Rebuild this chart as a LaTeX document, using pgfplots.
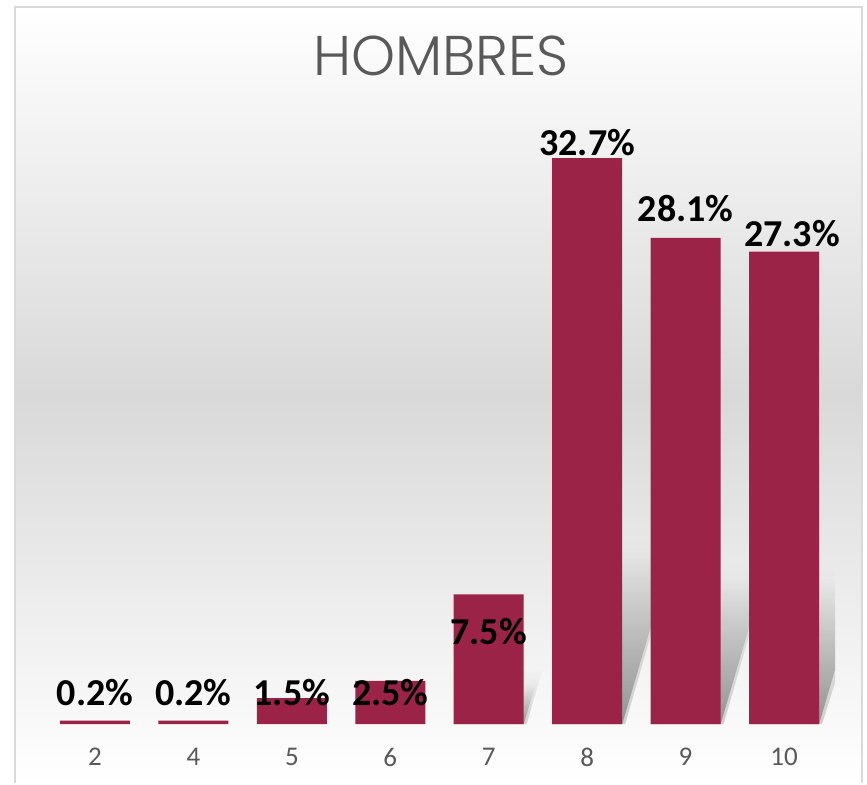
\documentclass[border=0pt]{standalone}
\usepackage{fontspec}
\setmainfont{Carlito}
\newfontfamily\titlefont{Poppins Light}
\usepackage{pgfplots}
\pgfplotsset{compat=1.18}
\usetikzlibrary{fadings}

\definecolor{barred}{RGB}{155,35,71}
\definecolor{tickgray}{RGB}{89,89,89}
\definecolor{framegray}{RGB}{217,217,217}
\definecolor{shadowgray}{RGB}{110,110,110}

\pgfplotsset{
    soft shadow/.style={fill=shadowgray, draw=none, fill opacity=#1, path fading=north},
}

\begin{document}
\begin{tikzpicture}
% chart area background (867x783 px -> 433.5x391.5 pt)
\fill[top color=white, bottom color=white, middle color=black!15]
    (7.5pt,0pt) rectangle (431pt,388pt);
\draw[framegray, line width=1pt]
    (7.5pt,0pt) -- (7.5pt,388pt) -- (431pt,388pt) -- (431pt,0pt);
\begin{axis}[
    at={(0pt,0pt)}, anchor=south west,
    scale only axis,
    width=433.5pt,
    height=391.5pt,
    xmin=-0.965, xmax=7.843,
    ymin=-3.408, ymax=41.83,
    axis line style={draw=none},
    major tick length=0pt,
    ytick=\empty,
    xtick={0,...,7},
    xticklabels={2,4,5,6,7,8,9,10},
    xticklabel style={anchor=center, yshift=13pt, font=\fontsize{13.5}{15}\selectfont, text=tickgray},
    /pgf/number format/assume math mode=true,
    clip=false,
]
% perspective shadows (outer soft layer, then inner layer)
\addplot[soft shadow=0.3] coordinates {
    (3.644,0) (4.386,0) (4.546,3.2) (3.764,3.2) (3.644,0)};
\addplot[soft shadow=0.55] coordinates {
    (3.644,0) (4.356,0) (4.472,2.25) (3.760,2.25) (3.644,0)};
\addplot[soft shadow=0.3] coordinates {
    (4.644,0) (5.386,0) (5.932,10.8) (5.150,10.8) (4.644,0)};
\addplot[soft shadow=0.6] coordinates {
    (4.644,0) (5.356,0) (5.862,9.81) (5.150,9.81) (4.644,0)};
\addplot[soft shadow=0.3] coordinates {
    (5.644,0) (6.386,0) (6.861,9.4) (6.079,9.4) (5.644,0)};
\addplot[soft shadow=0.6] coordinates {
    (5.644,0) (6.356,0) (6.791,8.43) (6.079,8.43) (5.644,0)};
\addplot[soft shadow=0.3] coordinates {
    (6.644,0) (7.386,0) (7.518,2.4) (7.518,9.2) (7.067,9.2) (6.644,0)};
\addplot[soft shadow=0.6] coordinates {
    (6.644,0) (7.356,0) (7.518,3.14) (7.518,8.19) (7.067,8.19) (6.644,0)};

\addplot[ybar, bar width=35pt, fill=barred, draw=none] coordinates {
    (0,0.2) (1,0.2) (2,1.5) (3,2.5) (4,7.5) (5,32.7) (6,28.1) (7,27.3)
};

% value labels
\addplot[draw=none, nodes near coords, point meta=explicit symbolic,
    every node near coord/.append style={anchor=center, inner sep=0pt,
        font=\fontsize{19}{22}\selectfont\bfseries, text=black}]
coordinates {
    (0,1.85)[0.2\%] (1,1.85)[0.2\%] (2,1.85)[1.5\%] (3,1.85)[2.5\%]
    (4,5.37)[7.5\%] (5,33.6)[32.7\%] (6,29.8)[28.1\%] (7.08,28.34)[27.3\%]
};

\node[font=\titlefont\fontsize{28}{32}\selectfont, text=tickgray]
    at (axis cs:3.515,38.59) {HOMBRES};
\end{axis}
\end{tikzpicture}
\end{document}
